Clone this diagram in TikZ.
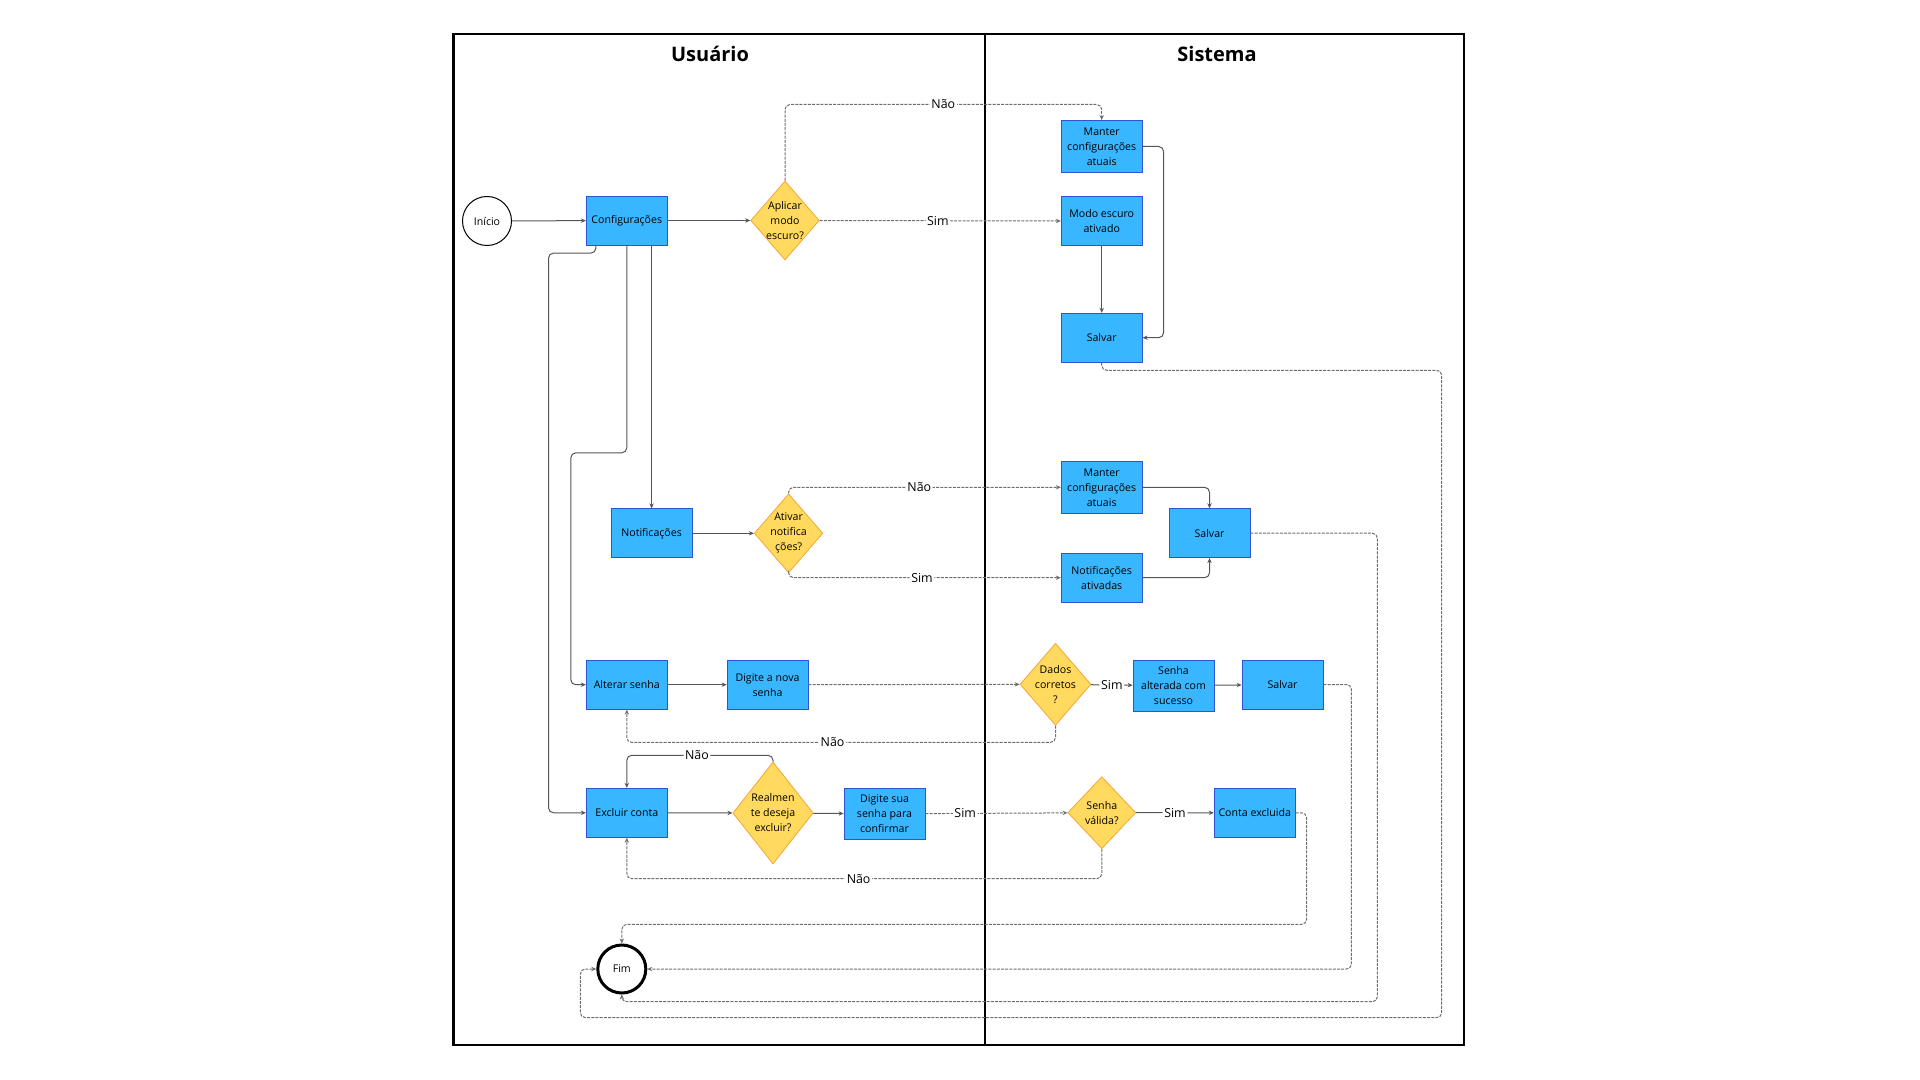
\documentclass[tikz,border=0pt]{standalone}
\usepackage{fontspec}
\setmainfont{Open Sans}
\usetikzlibrary{shapes.geometric,arrows.meta}
\definecolor{azul}{HTML}{38B6FF}
\definecolor{azulborda}{HTML}{2F52D6}
\definecolor{amarelo}{HTML}{FFDA5E}
\definecolor{laranja}{HTML}{F7A43A}
\definecolor{linha}{HTML}{555555}
\definecolor{tracejado}{HTML}{6E6E6E}

\begin{document}
\begin{tikzpicture}[x=0.5pt, y=-0.5pt, >={Stealth[length=2.5pt,width=2.2pt]},
  txt/.style={align=center, font=\fontsize{5.3}{7.5}\selectfont},
  caixa/.style={draw=azulborda, fill=azul, line width=0.4pt, minimum width=40.5pt, minimum height=24.5pt, inner sep=1pt, txt},
  decisao/.style={diamond, draw=laranja, fill=amarelo, line width=0.4pt, inner sep=0pt},
  titulo/.style={font=\fontsize{10}{12}\selectfont\bfseries},
  seta/.style={->, draw=linha, line width=0.5pt, rounded corners=2.5pt},
  trac/.style={seta, draw=tracejado, dash pattern=on 1.5pt off 0.6pt},
  rot/.style={fill=white, inner sep=0.8pt, font=\fontsize{6.2}{7}\selectfont}]
\useasboundingbox (0,0) rectangle (1920,1080);

% raias
\draw[line width=1.4pt] (453.6,34) rectangle (1464,1045);
\draw[line width=1pt] (984.5,34) -- (984.5,1045);
\node[titulo] (usuario) at (710,54) {Usuário};
\node[titulo] (sistema) at (1217,54) {Sistema};

\node[circle, draw, line width=0.5pt, minimum size=24.5pt, inner sep=0pt, txt] (A) at (487,221) {Início};
\node[caixa] (B) at (626.8,220.5) {Configurações};
\node[decisao, minimum width=34.3pt, minimum height=39.5pt, label={[txt]center:Aplicar\\modo\\escuro?}] (C) at (785,220.5) {};
\node[caixa, minimum height=26pt] (D) at (1101.7,146.5) {Manter\\configurações\\atuais};
\node[caixa] (E) at (1101.7,221) {Modo escuro\\ativado};
\node[caixa] (F) at (1101.7,337.7) {Salvar};
\node[caixa] (G) at (651.6,533.3) {Notificações};
\node[decisao, minimum width=34.3pt, minimum height=39.5pt, label={[txt]center:Ativar\\notifica\\ções?}] (H) at (788.6,533.3) {};
\node[caixa, minimum height=26pt] (I) at (1101.7,487.3) {Manter\\configurações\\atuais};
\node[caixa] (J) at (1101.7,577.7) {Notificações\\ativadas};
\node[caixa] (K) at (1209.5,533.2) {Salvar};
\node[caixa] (L) at (626.8,684.7) {Alterar senha};
\node[caixa] (M) at (767.5,684.7) {Digite a nova\\senha};
\node[decisao, minimum width=35.5pt, minimum height=41pt, label={[txt]center:Dados\\corretos\\?}] (N) at (1055.5,684.3) {};
\node[caixa, minimum height=25.5pt] (O) at (1173.5,685.7) {Senha\\alterada com\\sucesso};
\node[caixa] (P) at (1282.5,684.5) {Salvar};
\node[caixa] (Q) at (626.8,812.8) {Excluir conta};
\node[decisao, minimum width=40.2pt, minimum height=51pt, label={[txt]center:Realmen\\te deseja\\excluir?}] (R) at (773,813) {};
\node[caixa, minimum height=25.5pt] (S) at (884.5,813.8) {Digite sua\\senha para\\confirmar};
\node[decisao, minimum width=34pt, minimum height=36pt, label={[txt]center:Senha\\válida?}] (T) at (1101.8,812.7) {};
\node[caixa] (U) at (1254.7,812.8) {Conta excluida};
\node[circle, draw, line width=1.5pt, minimum size=24pt, inner sep=0pt, txt] (V) at (621.8,969) {Fim};

% modo escuro
\draw[seta] (A) -- (B);
\draw[seta] (B) -- (C);
\draw[trac] (C.north) |- node[rot, pos=0.75] {Não} ([yshift=7.8pt]D.north) -- (D.north);
\draw[trac] (C.east) -- node[rot, pos=0.49] {Sim} (E.west);
\draw[seta] (D.east) -- ++(21,0) |- (F.east);
\draw[seta] (E) -- (F);
\draw[trac] (F.south) -- ++(0,7.7) -- ++(340,0) -- ++(0,647.3) -| ([xshift=-8pt]V.west) -- (V.west);

% notificacoes
\draw[seta] (G.north |- B.south) -- (G.north);
\draw[seta] (G) -- (H);
\draw[trac] (H.north) |- node[rot, pos=0.74] {Não} (I.west);
\draw[trac] (H.south) |- node[rot, pos=0.745] {Sim} (J.west);
\draw[seta] (I.east) -| (K.north);
\draw[seta] (J.east) -| (K.south);
\draw[trac] (K.east) -| ++(127,468.5) -| (V.south);

% senha
\draw[seta] (B.south) -- ++(0,207.4) -- ++(-56,0) |- (L.west);
\draw[seta] (L) -- (M);
\draw[trac] (M) -- (N);
\draw[seta] (N) -- node[rot] {Sim} (O);
\draw[seta] (O) -- (P);
\draw[trac] (P.east) -- ++(28,0) |- (V.east);
\draw[trac] (N.south) -- ++(0,16.7) -| node[rot, pos=0.26] {Não} (L.south);

% excluir conta
\draw[seta] ([xshift=5pt]B.south west) -- ++(0,7.7) -- ++(-47.4,0) |- (Q.west);
\draw[seta] (Q) -- (R);
\draw[seta] (R.north) -- ++(0,-6.3) -| node[rot, pos=0.26] {Não} (Q.north);
\draw[seta] (R) -- (S);
\draw[trac] (S) -- node[rot, pos=0.28] {Sim} (T);
\draw[trac] (T.south) -- ++(0,29.6) -| node[rot, pos=0.256] {Não} (Q.south);
\draw[seta] (T) -- node[rot] {Sim} (U);
\draw[trac] (U.east) -- ++(11,0) -- ++(0,111.5) -| (V.north);
\end{tikzpicture}
\end{document}
